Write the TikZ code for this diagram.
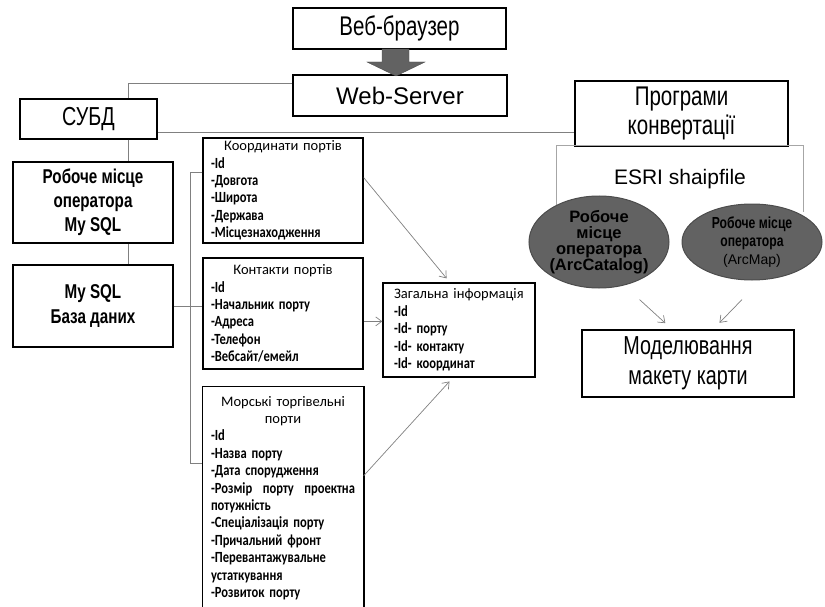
\documentclass[tikz,border=0pt]{standalone}
\usepackage{fontspec}
\setmainfont{Liberation Sans}
\newfontfamily\narrowfont{Liberation Sans}[FakeStretch=0.76]
\newfontfamily\tabfont{Carlito}
\newfontfamily\tabnarrow{Carlito}[FakeStretch=0.81]
\newcommand\itemfont{\tabnarrow\bfseries\fontsize{15.5}{17.4}\selectfont}
\usetikzlibrary{shapes.geometric,arrows.meta,calc}
\definecolor{lineg}{HTML}{808080}
\definecolor{blobg}{HTML}{626262}

\begin{document}
\begin{tikzpicture}[x=1pt,y=-1pt,
		box/.style={draw,line width=1.5pt,inner sep=2pt,align=center},
		big/.style={font=\narrowfont\fontsize{26}{30}\selectfont},
		tab/.style={draw,line width=1.5pt,text width=144pt,inner xsep=8pt,inner ysep=2pt,align=left,font=\tabfont\fontsize{14.5}{17.4}\selectfont},
		blob/.style={ellipse,draw=black!70,fill=blobg,line width=1pt,inner sep=0pt,align=center},
		line/.style={lineg,line width=0.8pt},
		arr/.style={lineg,line width=0.7pt,-{Straight Barb[length=6pt,width=9pt]}}]
	\useasboundingbox (0,0) rectangle (825,607);

	\node[box,big,minimum width=213,minimum height=41,font=\narrowfont\fontsize{27}{30}\selectfont] (browser) at (399.5,28.5) {Веб-браузер};
	\node[box,minimum width=214,minimum height=41,font=\fontsize{24}{28}\selectfont] (server) at (400,95.5) {Web-Server};
	\draw[blobg!80!black,fill=blobg,shift={(396,49)}] (-14,0) -- (13,0) -- (13,13) -- (29,13) -- (0,27) -- (-29,13) -- (-14,13) -- cycle;
	\node[box,big,minimum width=137,minimum height=40] (subd) at (88.5,119) {СУБД};
	\node[box,minimum width=213,minimum height=65,font=\narrowfont\fontsize{27}{29}\selectfont] (progr) at (681.5,113.5) {Програми\\конвертації};

	\node[box,minimum width=160,minimum height=81,font=\narrowfont\bfseries\fontsize{20}{24}\selectfont] (work) at (93,202.5) {Робоче місце\\оператора\\My SQL};
	\node[box,minimum width=160,minimum height=82,font=\narrowfont\bfseries\fontsize{20}{25}\selectfont] (db) at (93,306) {My SQL\\База даних};

	\node[tab,minimum height=105] (coord) at (283,190.5) {{\centering Координати портів\par}\itemfont -Id\\-Довгота\\-Широта\\-Держава\\-Місцезнаходження};
	\node[tab,minimum height=111] (contact) at (283,313.5) {{\centering Контакти портів\par}\itemfont -Id\\-Начальник порту\\-Адреса\\-Телефон\\-Вебсайт/емейл};
	\node[tab,draw=none,minimum height=222] (ports) at (283,498) {{\centering Морські торгівельні\\порти\par}\itemfont -Id\\-Назва порту\\-Дата спорудження\\-Розмір\hfill порту\hfill проектна\\потужність\\-Спеціалізація порту\\-Причальний фронт\\-Перевантажувальне\\устаткування\\-Розвиток порту};
	\draw[line width=1.5pt] (ports.south west) -- (ports.north west) -- (ports.north east) -- (ports.south east);
	\node[tab,text width=130pt,inner xsep=11pt,minimum height=94] (info) at (459,330) {Загальна інформація\\\itemfont -Id\\-Id- порту\\-Id- контакту\\-Id- координат};

	\node[minimum width=246,minimum height=66,font=\fontsize{21}{24}\selectfont] (esri) at (680,179) {ESRI shaipfile};
	\draw[lineg!70,line width=0.8pt] (esri.south west) -- (esri.north west) -- (esri.north east) -- (esri.south east);
	\node[blob,minimum width=128,minimum height=92,font=\bfseries\fontsize{16.5}{16}\selectfont] (el1) at (599,242) {Робоче\\місце\\оператора\\(ArcCatalog)};
	\node[blob,minimum width=140,minimum height=76,font=\narrowfont\bfseries\fontsize{16}{18}\selectfont] (el2) at (752,242) {Робоче місце\\оператора\\{\rmfamily\mdseries\fontsize{14}{18}\selectfont (ArcMap)}};
	\node[box,big,minimum width=212,minimum height=67] (model) at (688,363.5) {Моделювання\\макету карти};

	\coordinate (bend) at (128,83);
	\coordinate (lvl) at (0,132);
	\coordinate (bus) at (190,172);
	\coordinate (pbus) at ($(ports.north west)!0.343!(ports.south west)$);
	\coordinate (c2) at ($(contact.north east)!0.57!(contact.south east)$);

	\draw[line] (subd.north -| bend) -- (bend) -- (server.west |- bend);
	\draw[line] (subd.south -| bend) -- (work.north -| bend);
	\draw[line] (work.south -| bend) -- (db.north -| bend);
	\draw[line] (subd.east |- lvl) -- (progr.west |- lvl);
	\draw[line] (db.east) -- (contact.west |- db.east);
	\draw[line] (coord.west |- bus) -- (bus) -- (bus |- pbus) -- (pbus);

	\draw[arr,shorten >=5pt] ($(coord.north east)!0.38!(coord.south east)$) -- ($(info.north west)!0.44!(info.north east)$);
	\draw[arr] (c2) -- (info.west |- c2);
	\draw[arr,shorten >=5pt] ($(ports.north east)!0.4!(ports.south east)$) -- ($(info.south west)!0.46!(info.south east)$);
	\draw[arr,shorten <=21pt,shorten >=9pt] (el1.-60) -- ($(model.north west)!0.425!(model.north east)$);
	\draw[arr,shorten <=27pt,shorten >=9pt] (el2.-77) -- ($(model.north west)!0.618!(model.north east)$);
\end{tikzpicture}
\end{document}
